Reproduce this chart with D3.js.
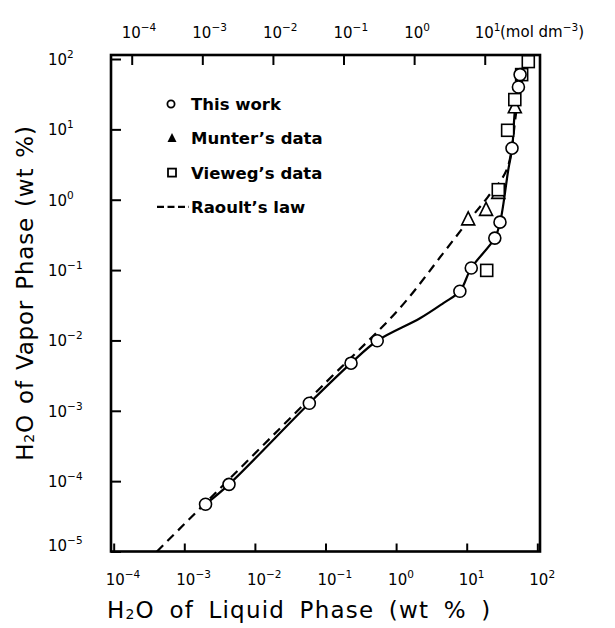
<!DOCTYPE html>
<html>
<head>
<meta charset="utf-8">
<script src="https://cdn.jsdelivr.net/npm/d3@7"></script>
<style>
  html, body { margin: 0; padding: 0; background: #fff; }
  svg { display: block; }
</style>
</head>
<body>
<div id="chart"></div>
<script>
// H2O vapor/liquid distribution, log-log.

// "This work" (open circles): liquid wt %, vapor wt %
const workLiquid = [2.0e-3, 4.3e-3, 0.059, 0.23, 0.54, 8.0, 11.6, 25, 29.6, 43.8, 54, 57];
const workVapor  = [4.7e-5, 9.0e-5, 1.28e-3, 4.75e-3, 9.9e-3, 0.05, 0.107, 0.285, 0.48, 5.4, 40, 60];

// Munter's data (triangles)
const munterLiquid = [10.5, 18.8, 28, 48];
const munterVapor  = [0.52, 0.71, 1.24, 20.4];

// Vieweg's data (squares)
const viewegLiquid = [19.2, 28, 38, 48, 60, 74.5];
const viewegVapor  = [0.099, 1.39, 9.7, 26.5, 60, 92];

// solid curve drawn through this work
const fitLiquid = [2.0e-3, 4.3e-3, 0.059, 0.23, 0.54, 2.18, 4.67, 8.0, 11.6, 25, 30, 38.8, 44, 48.3, 57, 67];
const fitVapor  = [4.7e-5, 9.0e-5, 1.28e-3, 4.75e-3, 9.9e-3, 0.0207, 0.034, 0.05, 0.107, 0.285, 0.5, 2.67, 5.4, 19, 51, 98];

// Raoult's law (dashed)
const raoultLiquid = [4.1e-4, 0.1, 1.13, 4.67, 10, 20, 37, 51, 70];
const raoultVapor  = [1e-5, 0.0025, 0.0288, 0.175, 0.467, 1.1, 2.7, 19, 100];

const xTickExp   = [-4, -3, -2, -1, 0, 1, 2];
const yTickExp   = [-5, -4, -3, -2, -1, 0, 1, 2];
const topTickExp = [-4, -3, -2, -1, 0, 1];
const WT_PER_MOL = 1.8; // wt % per mol dm-3

const legendItems = [
  { kind: "circle",   label: "This work" },
  { kind: "triangle", label: "Munter\u2019s  data" },
  { kind: "square",   label: "Vieweg\u2019s  data" },
  { kind: "dash",     label: "Raoult\u2019s   law" },
];

const W = 615, H = 628;
const L = 111, R = 540, T = 55, B = 551.5;
const FONT = "'DejaVu Sans', sans-serif";

const x = d3.scaleLog().domain([Math.pow(10, -4.038), Math.pow(10, 2.038)]).range([L, R]);
const y = d3.scaleLog().domain([1e-5, Math.pow(10, 2.057)]).range([B, T]);
const xTop = d3.scaleLog().domain(x.domain().map(d => d / WT_PER_MOL)).range([L, R]);

const svg = d3.select("#chart").append("svg")
  .attr("width", W).attr("height", H)
  .attr("font-family", FONT);

svg.append("defs").append("clipPath").attr("id", "plot")
  .append("rect").attr("x", L).attr("y", T).attr("width", R - L).attr("height", B - T);

// ticks (inward), labels added by hand for superscripts
const tickStyle = g => {
  g.select(".domain").remove();
  g.selectAll(".tick line").attr("stroke", "#000").attr("stroke-width", 2);
};
svg.append("g").attr("transform", `translate(0,${B})`)
  .call(d3.axisBottom(x).tickValues(xTickExp.map(e => Math.pow(10, e))).tickSize(-8).tickFormat(""))
  .call(tickStyle);
svg.append("g").attr("transform", `translate(0,${T})`)
  .call(d3.axisTop(xTop).tickValues(topTickExp.map(e => Math.pow(10, e))).tickSize(-10).tickFormat(""))
  .call(tickStyle);
svg.append("g").attr("transform", `translate(${L},0)`)
  .call(d3.axisLeft(y).tickValues(yTickExp.map(e => Math.pow(10, e))).tickSize(-10).tickFormat(""))
  .call(tickStyle);

function powLabel(g, px, py, e) {
  const t = g.append("text").attr("x", px).attr("y", py)
    .attr("font-size", 15).attr("fill", "#000");
  t.append("tspan").text("10");
  t.append("tspan").attr("font-size", 10.5).attr("dy", -7).text(e < 0 ? "\u2212" + (-e) : String(e));
  return t;
}

const labels = svg.append("g");
xTickExp.forEach(e => powLabel(labels, x(Math.pow(10, e)) - 8, 585, e));
topTickExp.forEach(e => powLabel(labels, xTop(Math.pow(10, e)) - 10, 38, e));
yTickExp.forEach(e => powLabel(labels, 48, y(Math.pow(10, e)) + 6 - (e === -5 ? 7 : 0), e));

const unit = labels.append("text").attr("x", 500).attr("y", 37).attr("font-size", 15);
unit.append("tspan").text("(mol  dm");
unit.append("tspan").attr("font-size", 10.5).attr("dy", -6).text("\u22123");
unit.append("tspan").attr("dy", 6).text(")");

// axis titles
const xTitle = svg.append("text").attr("x", 107).attr("y", 618).attr("font-size", 23)
  .attr("letter-spacing", 1.2).attr("word-spacing", 6);
xTitle.append("tspan").text("H");
xTitle.append("tspan").attr("font-size", 14).attr("dy", 1).text("2");
xTitle.append("tspan").attr("dy", -1).text("O of Liquid Phase (wt % )");

const yTitle = svg.append("text")
  .attr("transform", "translate(33,293) rotate(-90)")
  .attr("text-anchor", "middle").attr("font-size", 23)
  .attr("letter-spacing", 0.8).attr("word-spacing", 2);
yTitle.append("tspan").text("H");
yTitle.append("tspan").attr("font-size", 14).attr("dy", 1).text("2");
yTitle.append("tspan").attr("dy", -1).text("O of Vapor Phase (wt %)");

// lines
const plot = svg.append("g").attr("clip-path", "url(#plot)");
const line = d3.line().x(d => x(d[0])).y(d => y(d[1])).curve(d3.curveCatmullRom.alpha(0.5));

plot.append("path")
  .attr("d", line(d3.zip(raoultLiquid, raoultVapor)))
  .attr("fill", "none").attr("stroke", "#000").attr("stroke-width", 2.2)
  .attr("stroke-dasharray", "9 6");
plot.append("path")
  .attr("d", line(d3.zip(fitLiquid, fitVapor)))
  .attr("fill", "none").attr("stroke", "#000").attr("stroke-width", 2.2);

// markers
const triPath = s => `M0,${-s * 0.6}L${s / 2},${s * 0.4}L${-s / 2},${s * 0.4}Z`;
const markStyle = sel => sel.attr("fill", "#fff").attr("stroke", "#000").attr("stroke-width", 1.6);

svg.append("g").selectAll("path")
  .data(d3.zip(munterLiquid, munterVapor)).join("path")
  .attr("transform", d => `translate(${x(d[0])},${y(d[1])})`)
  .attr("d", triPath(13)).call(markStyle);

svg.append("g").selectAll("rect")
  .data(d3.zip(viewegLiquid, viewegVapor)).join("rect")
  .attr("x", d => x(d[0]) - 6).attr("y", d => y(d[1]) - 6)
  .attr("width", 12).attr("height", 12).call(markStyle);

svg.append("g").selectAll("circle")
  .data(d3.zip(workLiquid, workVapor)).join("circle")
  .attr("cx", d => x(d[0])).attr("cy", d => y(d[1])).attr("r", 6).call(markStyle);

// frame
svg.append("rect").attr("x", L).attr("y", T).attr("width", R - L).attr("height", B - T)
  .attr("fill", "none").attr("stroke", "#000").attr("stroke-width", 2.6);

// legend
const legend = svg.append("g");
legendItems.forEach((d, i) => {
  const cy = 104 + i * 34.3;
  const g = legend.append("g");
  if (d.kind === "circle") {
    g.append("circle").attr("cx", 171).attr("cy", cy).attr("r", 3.6)
      .attr("fill", "#fff").attr("stroke", "#000").attr("stroke-width", 1.8);
  } else if (d.kind === "triangle") {
    g.append("path").attr("transform", `translate(172,${cy})`).attr("d", triPath(9)).attr("fill", "#000");
  } else if (d.kind === "square") {
    g.append("rect").attr("x", 168).attr("y", cy - 4).attr("width", 8).attr("height", 8)
      .attr("fill", "#fff").attr("stroke", "#000").attr("stroke-width", 1.8);
  } else {
    g.append("line").attr("x1", 157).attr("x2", 189).attr("y1", cy).attr("y2", cy)
      .attr("stroke", "#000").attr("stroke-width", 2.2).attr("stroke-dasharray", "7 3.5");
  }
  g.append("text").attr("x", 191).attr("y", cy + 6)
    .attr("font-size", 16.5).attr("font-weight", "bold").text(d.label);
});
</script>
</body>
</html>
